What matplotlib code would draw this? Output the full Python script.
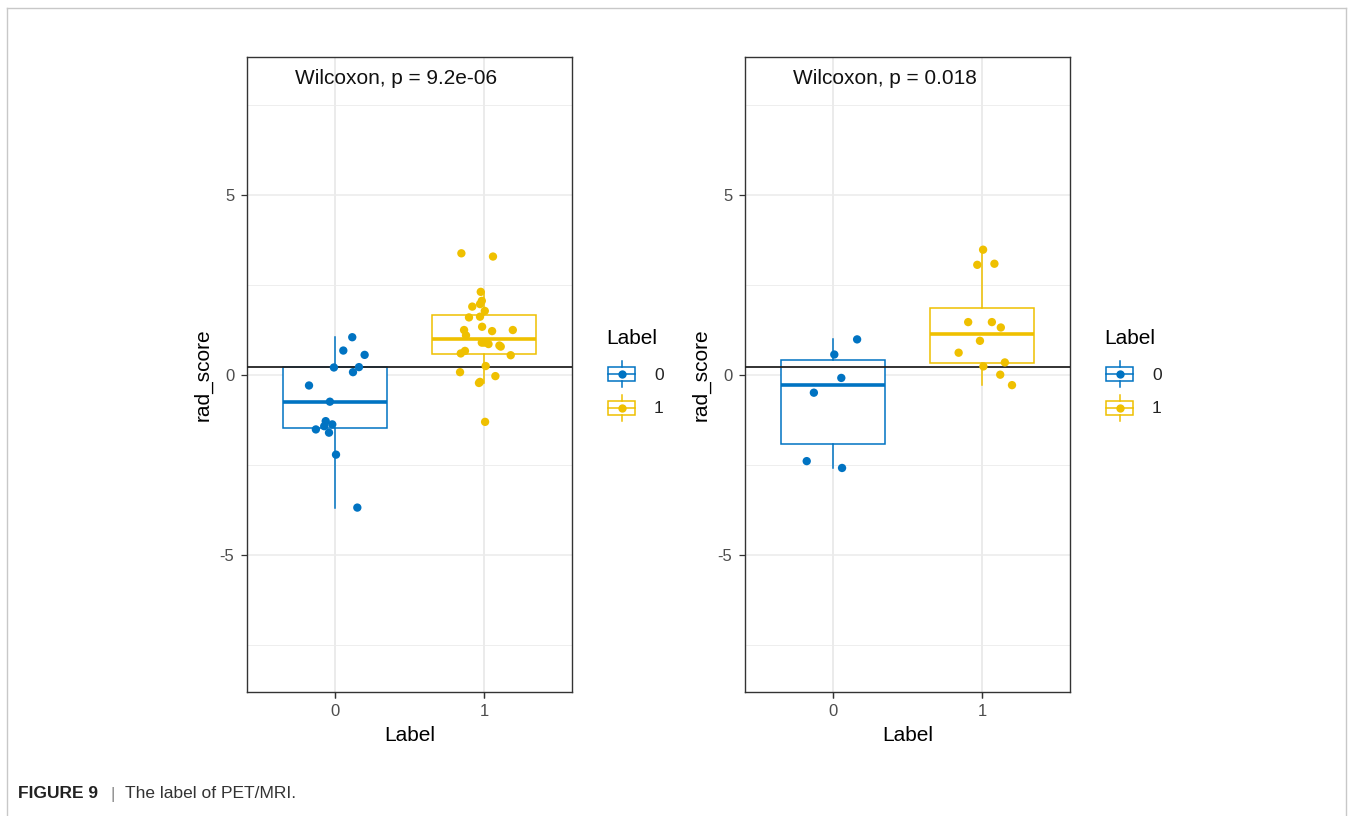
import numpy as np
import matplotlib.pyplot as plt
from matplotlib.lines import Line2D
from matplotlib.patches import Rectangle

plt.rcParams['font.family'] = ['Liberation Sans', 'DejaVu Sans']
plt.rcParams['axes.unicode_minus'] = False

# rad_score per group, with the horizontal jitter used for each point
left_g0 = [1.05, 0.68, 0.56, 0.21, 0.22, 0.08, -0.29, -0.74, -1.28, -1.37,
           -1.42, -1.51, -1.60, -2.21, -3.68]
left_g0_jit = [0.116, 0.056, 0.199, -0.007, 0.161, 0.121, -0.174, -0.034, -0.062, -0.018,
               -0.072, -0.128, -0.040, 0.007, 0.150]
left_g1 = [3.38, 3.29, 2.31, 2.06, 1.97, 1.90, 1.78, 1.62, 1.60, 1.34,
           1.25, 1.25, 1.22, 1.10, 0.90, 0.90, 0.86, 0.82, 0.79, 0.67,
           0.60, 0.55, 0.25, 0.08, -0.03, -0.19, -0.22, -1.30]
left_g1_jit = [-0.152, 0.060, -0.022, -0.015, -0.027, -0.079, 0.005, -0.027, -0.101, -0.013,
               -0.134, 0.193, 0.054, -0.121, -0.015, 0.002, 0.030, 0.103, 0.112, -0.128,
               -0.156, 0.179, 0.011, -0.161, 0.076, -0.027, -0.034, 0.007]
right_g0 = [0.99, 0.57, -0.08, -0.49, -2.39, -2.58]
right_g0_jit = [0.162, 0.009, 0.056, -0.128, -0.176, 0.061]
right_g1 = [3.48, 3.06, 3.09, 1.47, 1.47, 1.32, 0.95, 0.62, 0.35, 0.24, 0.01, -0.28]
right_g1_jit = [0.007, -0.032, 0.083, -0.093, 0.066, 0.126, -0.014, -0.157, 0.153, 0.009,
                0.122, 0.201]

p_labels = ["Wilcoxon, p = 9.2e-06", "Wilcoxon, p = 0.018"]
cutoff = 0.22
groups = ["0", "1"]
colors = ["#0073C2", "#EFC000"]

W, H = 1353, 816
fig = plt.figure(figsize=(W / 100, H / 100), dpi=100)


def panel(x0, data, jits, label):
    ax = fig.add_axes([x0 / W, 1 - 692 / H, 325 / W, 635 / H])
    ax.set_xlim(-0.59, 1.59)
    ax.set_ylim(-8.8, 8.83)
    ax.set_yticks([-5, 0, 5])
    ax.set_yticks([-7.5, -2.5, 2.5, 7.5], minor=True)
    ax.set_xticks([0, 1])
    ax.set_xticklabels(groups)
    ax.grid(which='major', color='#EBEBEB', lw=1.1, zorder=0)
    ax.grid(which='minor', axis='y', color='#EBEBEB', lw=0.6, zorder=0)
    ax.tick_params(which='minor', length=0)
    ax.tick_params(which='major', length=4, width=0.9, color='#333333', pad=5,
                   labelsize=12, labelcolor='#4D4D4D')
    for s in ax.spines.values():
        s.set_color('#333333')
        s.set_linewidth(1.0)

    for i, (vals, jit) in enumerate(zip(data, jits)):
        c = colors[i]
        ax.boxplot([vals], positions=[i], widths=0.7, showfliers=False,
                   showcaps=False, patch_artist=True, zorder=2,
                   boxprops=dict(facecolor='white', edgecolor=c, lw=1.1),
                   whiskerprops=dict(color=c, lw=1.1),
                   medianprops=dict(color=c, lw=2.6))
        ax.scatter(i + np.array(jit), vals, s=36, color=c, edgecolor='none', zorder=4)

    ax.axhline(cutoff, color='#222222', lw=1.3, zorder=3)
    ax.text(-0.27, 8.22, label, fontsize=15, ha='left', va='center', color='#111111')
    ax.set_xlabel("Label", fontsize=15, labelpad=5)
    ax.set_ylabel("rad_score", fontsize=15, labelpad=5)
    return ax


panel(247, [left_g0, left_g1], [left_g0_jit, left_g1_jit], p_labels[0])
panel(745, [right_g0, right_g1], [right_g0_jit, right_g1_jit], p_labels[1])

# overlay in pixel units for the legends, frame and caption
ov = fig.add_axes([0, 0, 1, 1])
ov.set_xlim(0, W)
ov.set_ylim(H, 0)
ov.axis('off')


def legend(x):
    ov.text(x, 338, "Label", fontsize=15, ha='left', va='center')
    for k, (g, c) in enumerate(zip(groups, colors)):
        yc = 374 + 33.5 * k
        ov.add_patch(Rectangle((x + 2, yc - 7), 27, 14, fill=False, ec=c, lw=1.1))
        ov.add_line(Line2D([x + 15.5, x + 15.5], [yc - 13, yc - 7], color=c, lw=1.1))
        ov.add_line(Line2D([x + 15.5, x + 15.5], [yc + 7, yc + 13], color=c, lw=1.1))
        ov.add_line(Line2D([x + 2, x + 29], [yc, yc], color=c, lw=1.1))
        ov.plot([x + 15.5], [yc], 'o', ms=6, color=c, mec='none')
        ov.text(x + 48, yc + 1, g, fontsize=12.5, ha='left', va='center', color='#222222')


legend(606)
legend(1104)

frame = '#C8C8C8'
ov.add_line(Line2D([7, 1346], [8, 8], color=frame, lw=1))
ov.add_line(Line2D([7, 7], [8, H], color=frame, lw=1))
ov.add_line(Line2D([1346, 1346], [8, H], color=frame, lw=1))

ov.text(18, 794, "FIGURE 9", fontsize=12.5, fontweight='bold', ha='left', va='center',
        color='#222222')
ov.text(110, 794, "|", fontsize=12.5, ha='left', va='center', color='#888888')
ov.text(125, 794, "The label of PET/MRI.", fontsize=12.5, ha='left', va='center',
        color='#333333')

fig.savefig("out.png", dpi=100)
